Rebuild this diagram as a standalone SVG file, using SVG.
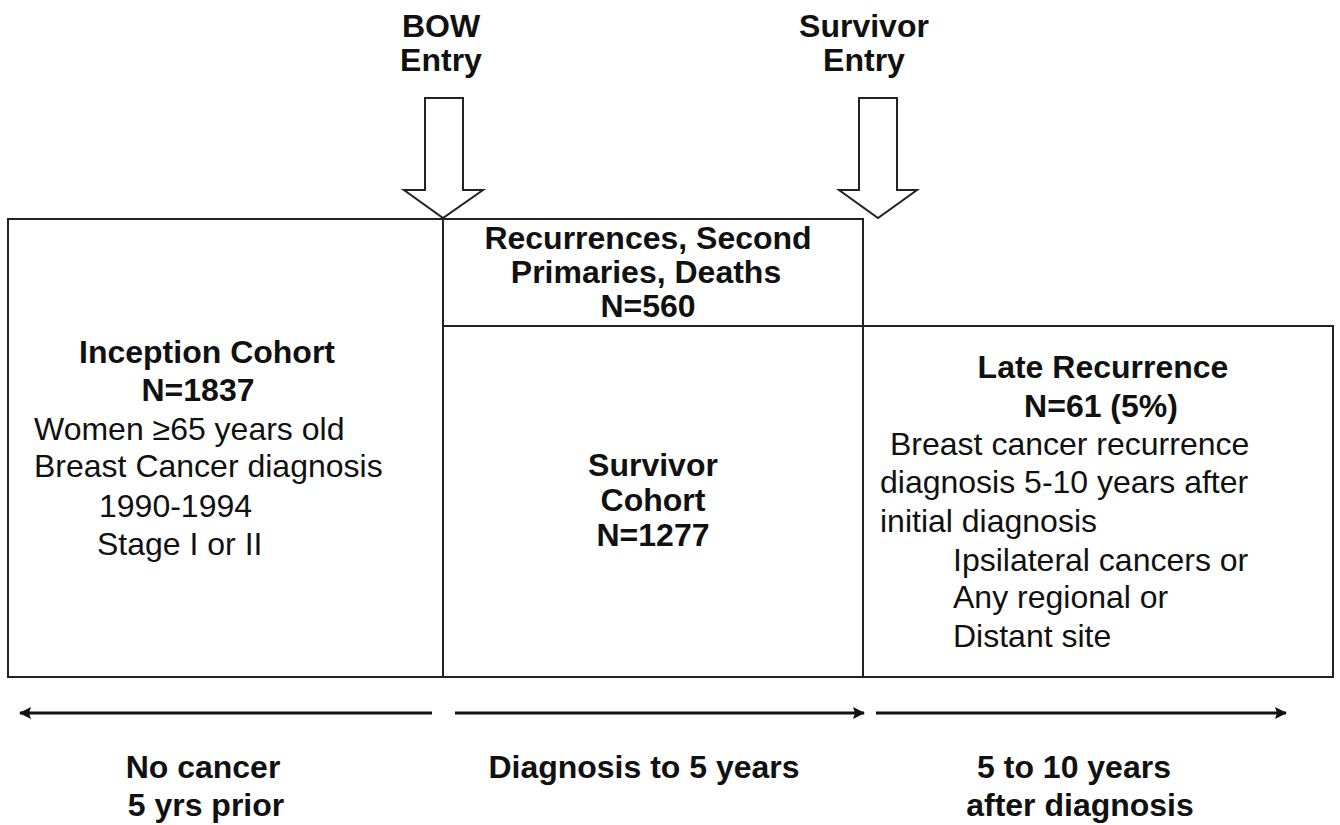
<svg xmlns="http://www.w3.org/2000/svg" width="1340" height="825" viewBox="0 0 1340 825">
<style>
.box{fill:#fff;stroke:#222;stroke-width:2}
.blk{fill:#fff;stroke:#222;stroke-width:2;stroke-linejoin:miter}
text{font-family:"Liberation Sans",Arial,sans-serif;fill:#111}
.b{font-weight:bold;font-size:32px}
.r{font-size:32px}
.tl{stroke:#111;stroke-width:3;fill:none}
.m{text-anchor:middle}
</style>
<defs>
<marker id="ah" viewBox="0 0 12 12" refX="11" refY="6" markerWidth="12" markerHeight="12" orient="auto-start-reverse" markerUnits="userSpaceOnUse">
<path d="M0,0 L12,6 L0,12 L2,6 Z" fill="#111"/>
</marker>
</defs>
<rect width="1340" height="825" fill="#fff"/>

<g id="bow-entry">
<text class="b m" x="441" y="37">BOW</text>
<text class="b m" x="441" y="71">Entry</text>
<polygon class="blk" points="425,98 463,98 463,190 483,190 443,218 404,190 425,190"/>
</g>
<g id="survivor-entry">
<text class="b m" x="864" y="37">Survivor</text>
<text class="b m" x="864" y="71">Entry</text>
<polygon class="blk" points="859,98 897,98 897,190 917,190 878,218 839,190 859,190"/>
</g>

<g id="inception">
<rect class="box" x="8" y="219" width="435" height="458"/>
<text class="b m" x="207" y="363">Inception Cohort</text>
<text class="b m" x="198" y="401">N=1837</text>
<text class="r" x="34" y="440">Women ≥65 years old</text>
<text class="r" x="34" y="477">Breast Cancer diagnosis</text>
<text class="r" x="99" y="517">1990-1994</text>
<text class="r" x="97" y="555">Stage I or II</text>
</g>

<g id="recurrences">
<rect class="box" x="443" y="219" width="420" height="107"/>
<text class="b m" x="648" y="249">Recurrences, Second</text>
<text class="b m" x="646" y="283">Primaries, Deaths</text>
<text class="b m" x="648" y="317">N=560</text>
</g>

<g id="survivor">
<rect class="box" x="443" y="326" width="420" height="351"/>
<text class="b m" x="653" y="476">Survivor</text>
<text class="b m" x="653" y="511">Cohort</text>
<text class="b m" x="653" y="546">N=1277</text>
</g>

<g id="late">
<rect class="box" x="863" y="326" width="470" height="351"/>
<text class="b m" x="1103" y="378">Late Recurrence</text>
<text class="b m" x="1101" y="417">N=61 (5%)</text>
<text class="r" x="890" y="455">Breast cancer recurrence</text>
<text class="r" x="880" y="493">diagnosis 5-10 years after</text>
<text class="r" x="880" y="532">initial diagnosis</text>
<text class="r" x="953" y="571">Ipsilateral cancers or</text>
<text class="r" x="953" y="608">Any regional or</text>
<text class="r" x="953" y="647">Distant site</text>
</g>

<g id="connectors">
<line class="tl" x1="432" y1="713" x2="20" y2="713" marker-end="url(#ah)"/>
<line class="tl" x1="455" y1="713" x2="864" y2="713" marker-end="url(#ah)"/>
<line class="tl" x1="876" y1="713" x2="1286" y2="713" marker-end="url(#ah)"/>
</g>

<g id="timeline-labels">
<text class="b m" x="203" y="778">No cancer</text>
<text class="b m" x="206" y="816">5 yrs prior</text>
<text class="b m" x="644" y="778">Diagnosis to 5 years</text>
<text class="b m" x="1074" y="778">5 to 10 years</text>
<text class="b m" x="1080" y="816">after diagnosis</text>
</g>
</svg>
